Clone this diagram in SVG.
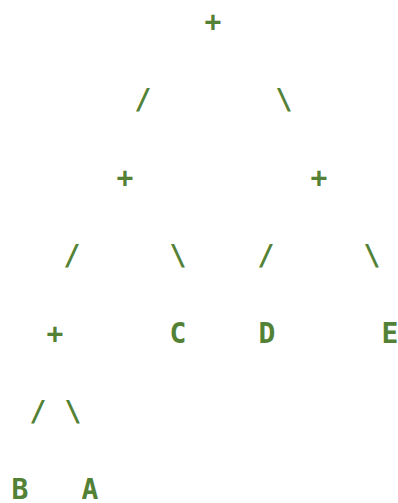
<svg xmlns="http://www.w3.org/2000/svg" width="398" height="503" viewBox="0 0 398 503">
<style>
text{font-family:"DejaVu Sans Mono","Liberation Mono",monospace;font-weight:bold;font-size:28px;fill:#538135;text-anchor:middle}
</style>
<rect width="398" height="503" fill="#ffffff"/>
<g id="n-root"><text x="213" y="31">+</text></g>
<g id="edges">
<text x="143" y="109">/</text><text x="284" y="109">\</text>
<text x="72" y="265">/</text><text x="178" y="265">\</text>
<text x="266" y="265">/</text><text x="372" y="265">\</text>
<text x="38" y="421">/</text><text x="73" y="421">\</text>
</g>
<g id="n-plus-l"><text x="125" y="187">+</text></g>
<g id="n-plus-r"><text x="319" y="187">+</text></g>
<g id="n-plus-ll"><text x="55" y="343">+</text></g>
<g id="n-c"><text x="178" y="343">C</text></g>
<g id="n-d"><text x="267" y="343">D</text></g>
<g id="n-e"><text x="390" y="343">E</text></g>
<g id="n-b"><text x="20" y="499">B</text></g>
<g id="n-a"><text x="90" y="499">A</text></g>
</svg>
